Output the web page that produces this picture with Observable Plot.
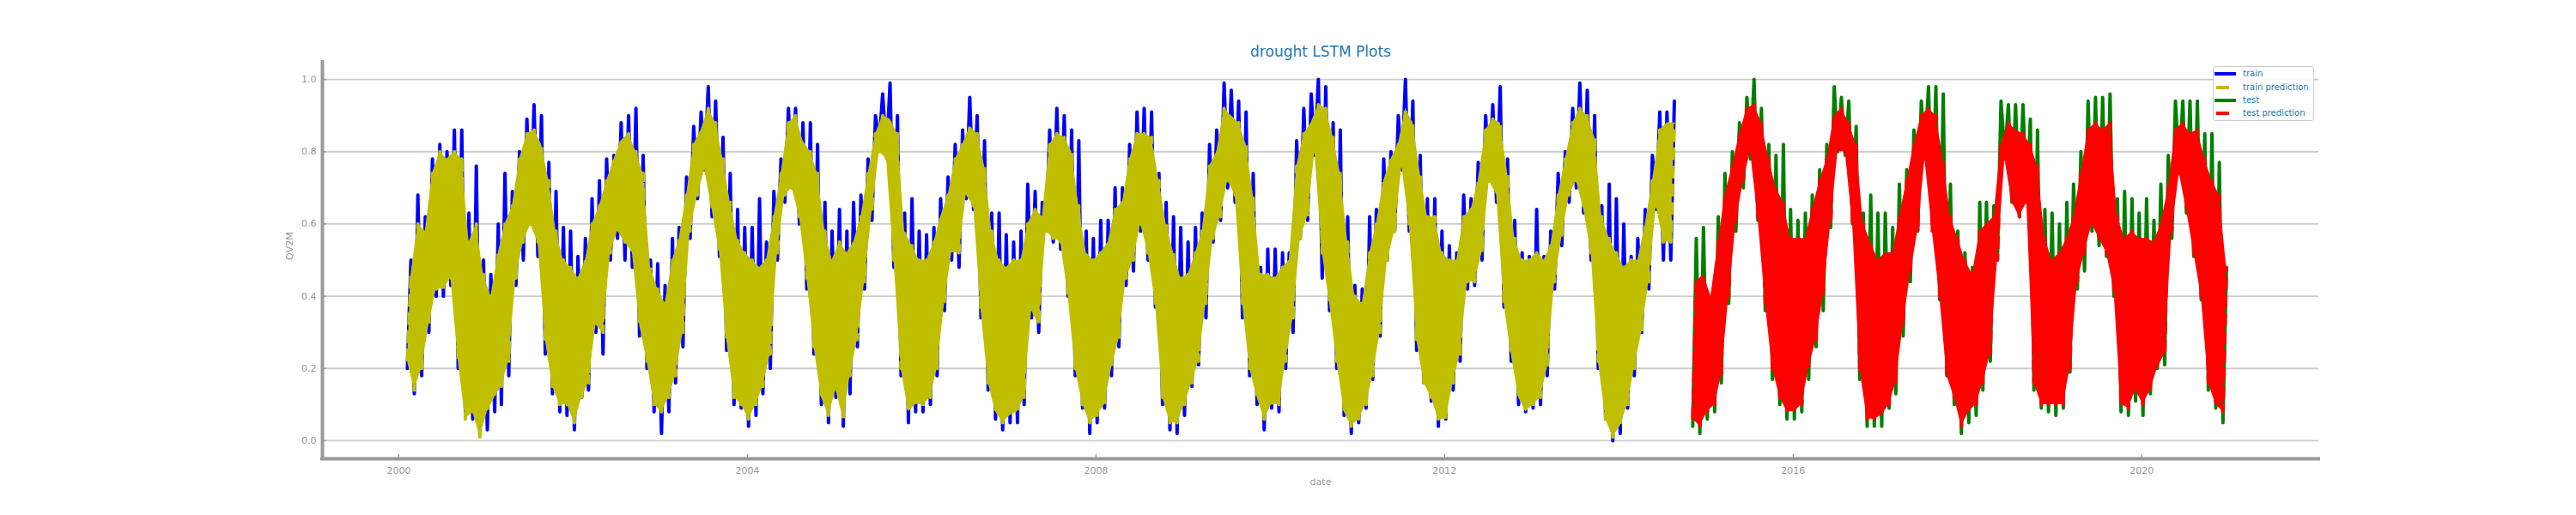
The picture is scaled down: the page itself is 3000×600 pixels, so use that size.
<!DOCTYPE html>
<html>
<head>
<meta charset="utf-8">
<script src="https://cdn.jsdelivr.net/npm/d3@7"></script>
<script src="https://cdn.jsdelivr.net/npm/@observablehq/plot@0.6"></script>
<style>
  body { margin: 0; background: #ffffff; }
  #wrap { position: relative; width: 3000px; height: 600px; font-family: "DejaVu Sans", sans-serif; }
  #legend { position: absolute; left: 2577px; top: 77px; width: 116px; height: 62px;
            border: 1.5px solid #cccccc; border-radius: 3px; background: rgba(255,255,255,0.85); }
  .lg-row { position: absolute; left: 0; height: 14px; width: 116px; }
  .lg-sw { position: absolute; top: 5px; height: 4px; }
  .lg-tx { position: absolute; left: 34px; top: 0; font-size: 10px; line-height: 14px; color: #1f77b4; white-space: nowrap; }
</style>
</head>
<body>
<div id="wrap"><div id="legend"></div></div>
<script>
// ---- data (monthly envelope: one low and one high reading per month) ----
// train: Feb 2000 .. Aug 2014
const trainStart = [2000, 1];
const trainHi = [
  0.50,0.68,0.62,0.78,0.82,0.80,0.86,0.86,0.63,0.76,0.50,
  0.46,0.60,0.74,0.69,0.80,0.89,0.93,0.90,0.77,0.69,0.59,0.58,
  0.51,0.56,0.67,0.72,0.78,0.79,0.88,0.90,0.92,0.79,0.50,0.49,
  0.43,0.56,0.59,0.73,0.87,0.91,0.98,0.94,0.84,0.74,0.64,0.59,
  0.59,0.67,0.55,0.69,0.78,0.92,0.92,0.88,0.88,0.82,0.66,0.58,
  0.64,0.58,0.66,0.68,0.78,0.90,0.96,0.99,0.90,0.63,0.67,0.58,
  0.57,0.59,0.67,0.73,0.82,0.86,0.95,0.90,0.83,0.63,0.63,0.57,
  0.55,0.58,0.71,0.69,0.66,0.86,0.92,0.90,0.86,0.83,0.58,0.56,
  0.61,0.61,0.70,0.70,0.82,0.91,0.92,0.91,0.74,0.66,0.62,0.59,
  0.55,0.59,0.63,0.82,0.86,0.99,0.97,0.94,0.91,0.74,0.48,0.53,
  0.53,0.52,0.52,0.83,0.92,0.96,1.00,0.98,0.88,0.86,0.62,0.43,
  0.42,0.62,0.64,0.78,0.80,0.90,1.00,0.94,0.79,0.67,0.67,0.58,
  0.54,0.52,0.68,0.67,0.77,0.90,0.93,0.98,0.78,0.61,0.52,0.51,
  0.64,0.51,0.58,0.74,0.80,0.92,0.99,0.97,0.90,0.65,0.71,0.67,
  0.60,0.51,0.56,0.64,0.79,0.91,0.91,0.94
];
const trainLo = [
  0.20,0.13,0.18,0.30,0.40,0.40,0.43,0.20,0.08,0.06,0.02,
  0.03,0.08,0.10,0.18,0.43,0.50,0.60,0.51,0.24,0.13,0.08,0.07,
  0.03,0.12,0.14,0.30,0.24,0.50,0.56,0.50,0.48,0.29,0.20,0.08,
  0.02,0.08,0.16,0.26,0.56,0.67,0.75,0.62,0.51,0.25,0.10,0.09,
  0.04,0.07,0.13,0.20,0.50,0.66,0.70,0.60,0.42,0.24,0.10,0.05,
  0.12,0.04,0.13,0.26,0.42,0.61,0.82,0.79,0.48,0.18,0.05,0.08,
  0.08,0.10,0.18,0.36,0.50,0.48,0.67,0.64,0.34,0.14,0.06,0.03,
  0.05,0.05,0.10,0.34,0.30,0.58,0.55,0.53,0.40,0.18,0.09,0.02,
  0.05,0.09,0.18,0.26,0.43,0.47,0.58,0.50,0.37,0.10,0.03,0.02,
  0.07,0.15,0.21,0.34,0.55,0.61,0.70,0.66,0.34,0.18,0.10,0.03,
  0.09,0.08,0.20,0.30,0.56,0.61,0.79,0.45,0.36,0.20,0.07,0.02,
  0.05,0.09,0.17,0.29,0.50,0.58,0.75,0.58,0.25,0.16,0.11,0.04,
  0.06,0.14,0.22,0.42,0.43,0.50,0.72,0.66,0.37,0.22,0.10,0.08,
  0.09,0.10,0.18,0.42,0.54,0.66,0.70,0.63,0.50,0.20,0.06,0.00,
  0.02,0.09,0.18,0.30,0.42,0.64,0.50,0.50
];
const trainPredHi = [
  0.46,0.60,0.58,0.74,0.80,0.78,0.80,0.78,0.55,0.60,0.46,
  0.40,0.52,0.60,0.65,0.78,0.85,0.86,0.82,0.72,0.58,0.50,0.48,
  0.45,0.50,0.60,0.65,0.72,0.78,0.83,0.85,0.80,0.74,0.48,0.42,
  0.38,0.50,0.56,0.68,0.82,0.86,0.92,0.88,0.78,0.66,0.56,0.52,
  0.50,0.48,0.50,0.62,0.74,0.88,0.90,0.83,0.80,0.74,0.58,0.50,
  0.55,0.52,0.55,0.62,0.74,0.85,0.90,0.89,0.85,0.58,0.54,0.50,
  0.50,0.55,0.62,0.68,0.78,0.82,0.87,0.85,0.76,0.58,0.50,0.48,
  0.50,0.50,0.60,0.64,0.62,0.82,0.85,0.84,0.80,0.65,0.52,0.50,
  0.52,0.55,0.64,0.66,0.78,0.85,0.85,0.84,0.72,0.60,0.52,0.45,
  0.46,0.52,0.58,0.76,0.80,0.92,0.90,0.88,0.82,0.68,0.46,0.46,
  0.45,0.48,0.50,0.76,0.85,0.88,0.93,0.92,0.84,0.74,0.55,0.40,
  0.38,0.52,0.60,0.72,0.78,0.82,0.92,0.88,0.74,0.62,0.62,0.52,
  0.50,0.50,0.62,0.64,0.72,0.86,0.89,0.88,0.74,0.56,0.50,0.50,
  0.52,0.50,0.54,0.68,0.78,0.88,0.92,0.90,0.84,0.62,0.56,0.52,
  0.48,0.50,0.50,0.60,0.72,0.86,0.88,0.88
];
const trainPredLo = [
  0.22,0.14,0.20,0.32,0.42,0.42,0.45,0.22,0.06,0.08,0.01,
  0.08,0.12,0.15,0.22,0.45,0.55,0.60,0.55,0.28,0.15,0.10,0.10,
  0.05,0.12,0.16,0.32,0.30,0.52,0.58,0.55,0.52,0.32,0.22,0.10,
  0.08,0.12,0.18,0.30,0.58,0.68,0.75,0.64,0.52,0.28,0.12,0.10,
  0.06,0.10,0.15,0.24,0.52,0.68,0.70,0.62,0.45,0.26,0.12,0.07,
  0.14,0.06,0.18,0.28,0.44,0.63,0.80,0.78,0.50,0.20,0.08,0.10,
  0.10,0.12,0.20,0.38,0.52,0.52,0.68,0.65,0.36,0.16,0.08,0.05,
  0.07,0.08,0.12,0.36,0.32,0.58,0.56,0.55,0.40,0.20,0.10,0.05,
  0.07,0.10,0.20,0.28,0.45,0.50,0.60,0.52,0.38,0.12,0.05,0.05,
  0.10,0.16,0.22,0.38,0.56,0.62,0.72,0.68,0.38,0.20,0.12,0.06,
  0.10,0.10,0.22,0.34,0.56,0.62,0.80,0.52,0.38,0.22,0.08,0.04,
  0.06,0.10,0.18,0.30,0.50,0.58,0.76,0.60,0.28,0.16,0.12,0.06,
  0.06,0.16,0.24,0.44,0.44,0.52,0.72,0.68,0.38,0.24,0.12,0.08,
  0.10,0.12,0.20,0.44,0.56,0.68,0.72,0.64,0.52,0.22,0.06,0.01,
  0.04,0.10,0.20,0.30,0.44,0.65,0.55,0.55
];
// test: Nov 2014 .. Dec 2020
const testStart = [2014, 10];
const testHi = [
  0.56,0.59,
  0.39,0.62,0.74,0.80,0.88,0.95,1.00,0.92,0.82,0.79,0.82,0.64,
  0.61,0.63,0.68,0.75,0.82,0.98,0.95,0.94,0.87,0.63,0.68,0.63,
  0.63,0.59,0.71,0.75,0.86,0.94,0.98,0.98,0.96,0.71,0.58,0.52,
  0.48,0.66,0.66,0.65,0.94,0.93,0.93,0.93,0.89,0.86,0.64,0.63,
  0.60,0.66,0.71,0.80,0.94,0.95,0.95,0.96,0.67,0.69,0.67,0.63,
  0.67,0.61,0.71,0.79,0.94,0.94,0.94,0.94,0.85,0.85,0.77,0.48
];
const testLo = [
  0.04,0.02,
  0.06,0.08,0.16,0.38,0.58,0.70,0.78,0.61,0.36,0.17,0.10,0.06,
  0.06,0.08,0.17,0.26,0.36,0.59,0.80,0.79,0.60,0.17,0.04,0.04,
  0.04,0.09,0.13,0.29,0.44,0.58,0.79,0.60,0.39,0.18,0.10,0.02,
  0.05,0.07,0.14,0.22,0.50,0.79,0.66,0.62,0.66,0.14,0.09,0.08,
  0.07,0.09,0.19,0.42,0.47,0.58,0.54,0.51,0.40,0.08,0.07,0.11,
  0.07,0.13,0.20,0.21,0.56,0.75,0.63,0.51,0.39,0.14,0.09,0.05
];
const testPredHi = [
  0.44,0.46,
  0.40,0.55,0.68,0.76,0.85,0.92,0.93,0.88,0.78,0.70,0.66,0.56,
  0.56,0.56,0.64,0.72,0.78,0.90,0.92,0.88,0.82,0.60,0.55,0.50,
  0.52,0.52,0.62,0.72,0.82,0.90,0.92,0.90,0.78,0.62,0.56,0.50,
  0.46,0.58,0.60,0.62,0.82,0.88,0.86,0.85,0.82,0.76,0.56,0.50,
  0.52,0.56,0.62,0.74,0.86,0.88,0.86,0.88,0.62,0.56,0.58,0.56,
  0.56,0.55,0.60,0.70,0.86,0.88,0.85,0.86,0.78,0.72,0.68,0.48
];
const testPredLo = [
  0.06,0.04,
  0.08,0.10,0.18,0.40,0.60,0.72,0.80,0.62,0.38,0.20,0.12,0.08,
  0.08,0.10,0.20,0.28,0.40,0.60,0.80,0.80,0.60,0.20,0.06,0.06,
  0.07,0.10,0.16,0.32,0.46,0.58,0.78,0.58,0.40,0.18,0.12,0.04,
  0.08,0.10,0.16,0.24,0.50,0.78,0.66,0.62,0.66,0.16,0.10,0.10,
  0.10,0.10,0.20,0.44,0.52,0.60,0.56,0.52,0.42,0.10,0.09,0.14,
  0.10,0.14,0.20,0.24,0.58,0.74,0.64,0.52,0.40,0.16,0.10,0.08
];
const yTicks = [0.0, 0.2, 0.4, 0.6, 0.8, 1.0];
const xTickYears = [2000, 2004, 2008, 2012, 2016, 2020];
const seriesNames = ["train", "train prediction", "test", "test prediction"];
const seriesColors = ["#0000ff", "#bfbf00", "#008000", "#ff0000"];
const seriesDashed = [false, true, false, true];

// ---- build tables: each month gives its low reading (early) and its high reading (later) ----
function rows(start, hi, lo) {
  const out = [];
  for (let i = 0; i < hi.length; i++) {
    out.push({date: new Date(Date.UTC(start[0], start[1] + i, 6)), value: lo[i]});
    out.push({date: new Date(Date.UTC(start[0], start[1] + i, 21)), value: hi[i]});
  }
  return out;
}
function band(start, hi, lo) {
  return hi.map((h, i) => ({
    xlo: new Date(Date.UTC(start[0], start[1] + i, 6)), lo: lo[i],
    xhi: new Date(Date.UTC(start[0], start[1] + i, 21)), hi: h
  }));
}
const train = rows(trainStart, trainHi, trainLo);
const trainPred = rows(trainStart, trainPredHi, trainPredLo);
const trainPredBand = band(trainStart, trainPredHi, trainPredLo);
const test = rows(testStart, testHi, testLo);
const testPred = rows(testStart, testPredHi, testPredLo);
const testPredBand = band(testStart, testPredHi, testPredLo);
const xTicks = xTickYears.map(y => new Date(Date.UTC(y, 0, 1)));

const W = 3000, H = 600, mL = 375, mR = 300, mT = 71, mB = 66;
const frameW = W - mL - mR, frameH = H - mT - mB;
const grey = "#999999";
const xStart = new Date(Date.UTC(1999, 1, 15)), xEnd = new Date(Date.UTC(2022, 0, 12));

const lineOpts = (i) => ({
  x: "date", y: "value", stroke: seriesColors[i], strokeWidth: 4,
  strokeLinejoin: "round",
  strokeLinecap: seriesDashed[i] ? "butt" : "round",
  strokeDasharray: seriesDashed[i] ? "14.8,6.4" : null
});
const bandOpts = (i) => ({x1: "xlo", y1: "lo", x2: "xhi", y2: "hi", fill: seriesColors[i]});

const chart = Plot.plot({
  width: W, height: H,
  marginLeft: mL, marginRight: mR, marginTop: mT, marginBottom: mB,
  style: {fontFamily: "DejaVu Sans", fontSize: "11px", color: grey, background: "transparent"},
  x: {type: "utc", domain: [xStart, xEnd]},
  y: {domain: [-0.05, 1.05]},
  marks: [
    Plot.ruleY(yTicks, {stroke: "#cccccc", strokeWidth: 1.8}),
    Plot.line(train, lineOpts(0)),
    Plot.area(trainPredBand, bandOpts(1)),
    Plot.line(trainPred, lineOpts(1)),
    Plot.line(test, lineOpts(2)),
    Plot.area(testPredBand, bandOpts(3)),
    Plot.line(testPred, lineOpts(3)),
    Plot.tickY(yTicks, {y: d => d, insetRight: frameW - 5, stroke: grey, strokeWidth: 1.3}),
    Plot.tickX(xTicks, {x: d => d, insetTop: frameH - 5, stroke: grey, strokeWidth: 1.3}),
    Plot.ruleX([xStart], {stroke: grey, strokeWidth: 4, insetTop: -1, insetBottom: -2}),
    Plot.ruleY([-0.05], {stroke: grey, strokeWidth: 4, insetLeft: -2, insetRight: -2}),
    Plot.axisY({ticks: yTicks, tickSize: 0, tickPadding: 7, tickFormat: d3.format(".1f"), label: null, fill: grey}),
    Plot.axisX({ticks: xTicks, tickSize: 0, tickPadding: 10, tickFormat: d3.utcFormat("%Y"), label: null, fill: grey}),
    Plot.text(["QV2M"], {frameAnchor: "left", dx: -38, rotate: -90, fill: grey, fontSize: 11}),
    Plot.text(["date"], {frameAnchor: "bottom", dy: 30, fill: grey, fontSize: 11}),
    Plot.text(["drought LSTM Plots"], {frameAnchor: "top", dy: -18, fill: "#1f77b4", fontSize: 17})
  ]
});
document.getElementById("wrap").prepend(chart);

// ---- legend ----
const legend = document.getElementById("legend");
const rowTops = [1, 17, 32, 47];
seriesNames.forEach((name, i) => {
  const row = document.createElement("div");
  row.className = "lg-row";
  row.style.top = rowTops[i] + "px";
  const sw = document.createElement("div");
  sw.className = "lg-sw";
  sw.style.background = seriesColors[i];
  sw.style.left = seriesDashed[i] ? "3px" : "1px";
  sw.style.width = seriesDashed[i] ? "15px" : "25px";
  const tx = document.createElement("div");
  tx.className = "lg-tx";
  tx.textContent = name;
  row.appendChild(sw);
  row.appendChild(tx);
  legend.appendChild(row);
});
</script>
</body>
</html>
